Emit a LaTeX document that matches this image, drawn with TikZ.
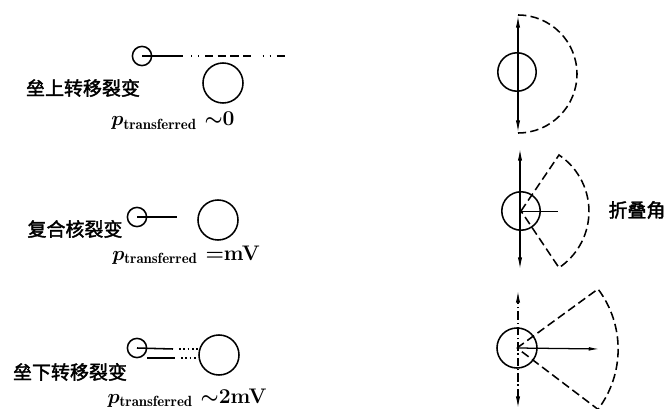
\documentclass[tikz,border=0pt]{standalone}
\usepackage{fontspec}
\newfontfamily\cjk[FakeBold=2]{Noto Sans CJK SC}
\usepackage{tikz}
\usetikzlibrary{arrows.meta}

\begin{document}
\begin{tikzpicture}[x=0.025cm, y=0.025cm,
  nucl/.style={circle, draw, line width=1.1pt, inner sep=0pt},
  small/.style={nucl, minimum size=0.48cm},
  big/.style={nucl, minimum size=1cm},
  tag/.style={font=\cjk\fontsize{13.5}{16}\selectfont, inner sep=0pt},
  ptext/.style={font=\fontsize{15}{17}\selectfont\boldmath\bfseries, inner sep=0pt},
  rim/.style={line width=1.1pt, dash pattern=on 6pt off 3pt},
  axis/.style={line width=1pt, {Latex[length=9pt,width=3pt]}-{Latex[length=9pt,width=3pt]}}]
\useasboundingbox (0,0) rectangle (667,409);
% above-barrier transfer
\node[small] (s1) at (142,353) {};
\node[big] (b1) at (223,326) {};
\coordinate (s1a) at (183,353);
\coordinate (s1b) at (287,353);
\draw[line width=1.3pt] (s1.center) -- (s1a);
\draw[line width=1.1pt, dash pattern=on 1pt off 4pt on 1pt off 4pt on 6pt off 3pt on 6pt off 3pt on 6pt off 3pt on 6pt off 8pt] (s1a) ++(8,0) -- (s1b);
\node[tag] (t1) at (83,321) {垒上转移裂变};
\node[ptext] (p1) at (173,288) {$p_{\mathrm{transferred}}$ $\sim$0};
% compound nucleus
\node[small] (s2) at (137,192) {};
\node[big] (b2) at (218,189) {};
\coordinate (s2a) at (177,192);
\draw[line width=1.1pt] (s2.center) -- (s2a);
\node[tag] (t2) at (75,180) {复合核裂变};
\node[ptext] (p2) at (186,154) {$p_{\mathrm{transferred}}$ =mV};
% below-barrier transfer
\node[small] (s3) at (137,61) {};
\node[big] (b3) at (219,54) {};
\coordinate (s3a) at (173,60);
\coordinate (s3b) at (147,51);
\coordinate (s3c) at (175,51);
\draw[line width=1.1pt] (s3.center) -- (s3a);
\draw[line width=1.1pt] (s3b) -- (s3c);
\draw[line width=1.1pt, dotted] (s3a) ++(6,0) -- (b3.west |- s3a);
\draw[line width=1.1pt, dotted] (s3c) ++(6,0) -- (b3.west |- s3c);
\node[tag] (t3) at (70,37) {垒下转移裂变};
\node[ptext] (p3) at (187,11) {$p_{\mathrm{transferred}}$ $\sim$2mV};
% angular distributions
\node[nucl, minimum size=0.96cm] (c1) at (517,337) {};
\coordinate (c1t) at (518,394);
\coordinate (c1b) at (518,276);
\draw[axis] (c1b) -- (c1t);
\draw[rim] (c1t) arc[start angle=90, end angle=-90, radius=59];
\node[nucl, minimum size=0.96cm] (c2) at (521,198) {};
\coordinate (c2t) at (520,261);
\coordinate (c2b) at (520,139);
\coordinate (c2r) at (558,198);
\coordinate (c2u) at (559,254);
\coordinate (c2d) at (559,142);
\draw[axis] (c2b) -- (c2t);
\draw[line width=0.7pt] (c2.center) -- (c2r);
\draw[rim] (c2.center) -- (c2u) arc[start angle=56, end angle=-56, radius=68] -- (c2.center);
\node[tag] (t4) at (637,199) {折叠角};
\node[nucl, minimum size=1cm] (c3) at (517,61) {};
\coordinate (c3t) at (518,119);
\coordinate (c3b) at (518,0);
\coordinate (c3r) at (600,60);
\coordinate (c3u) at (598,120);
\draw[axis, dash pattern=on 6pt off 2pt on 1pt off 2pt] (c3b) -- (c3t);
\draw[line width=0.9pt, -{Latex[length=8pt,width=2.6pt]}] (c3.center) -- (c3r);
\draw[rim] (c3.center) -- (c3u) arc[start angle=37, end angle=-37, radius=100] -- (c3.center);
\end{tikzpicture}
\end{document}
